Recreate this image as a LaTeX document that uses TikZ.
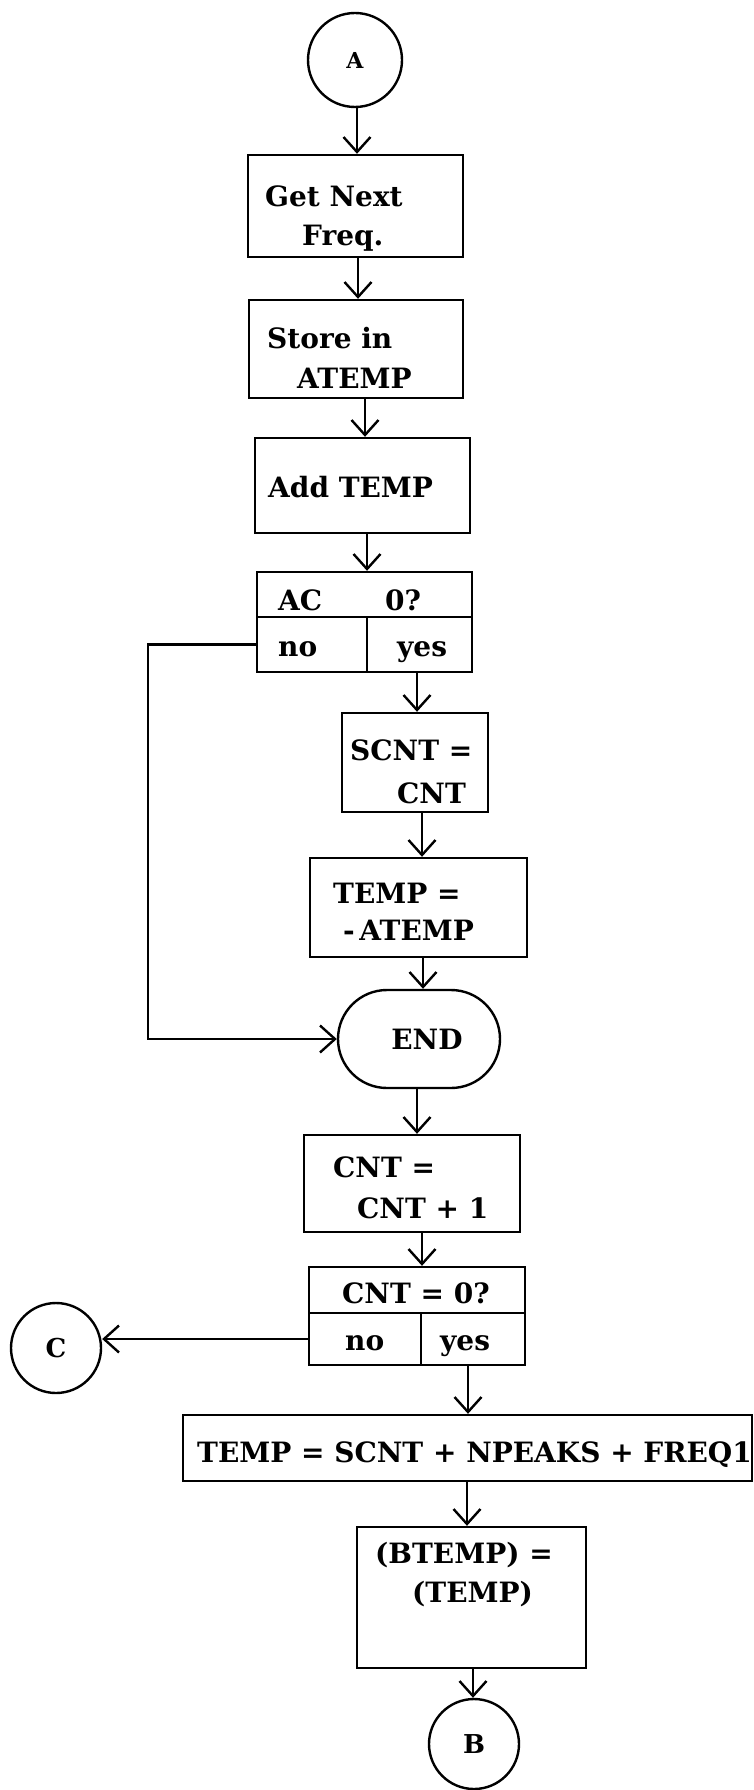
\documentclass[tikz,border=0pt]{standalone}
\usepackage{fontspec}
\setmainfont{DejaVu Serif}
\usetikzlibrary{arrows.meta}
\begin{document}
\begin{tikzpicture}[x=1pt,y=-1pt,
  every node/.style={font=\bfseries\fontsize{28}{32}\selectfont},
  box/.style={draw, line width=2.4pt, rectangle, inner sep=0pt},
  arr/.style={line width=2.4pt, -{Straight Barb[length=15pt,width=27pt,line width=2.4pt]}},
  txt/.style={anchor=base west, inner sep=0pt},
  conn/.style={draw, circle, line width=2.4pt, inner sep=0pt, font=\bfseries\fontsize{26}{28}\selectfont}
]
\useasboundingbox (0,0) rectangle (754,1790);
\fill[white] (0,0) rectangle (754,1790);

% connectors (circles)
\node[conn, minimum size=94pt, font=\bfseries\fontsize{22}{24}\selectfont] (A) at (355,60) {A};
\node[conn, minimum size=90pt] (C) at (56,1348) {C};
\node[conn, minimum size=90pt] (B) at (474,1744) {B};

% boxes
\node[box, minimum width=215pt, minimum height=102pt] (b1) at (355.5,206) {};
\node[box, minimum width=214pt, minimum height=98pt] (b2) at (356,349) {};
\node[box, minimum width=215pt, minimum height=95pt] (b3) at (362.5,485.5) {};
\node[box, minimum width=215pt, minimum height=45pt] (dec1t) at (364.5,594.5) {};
\node[box, minimum width=110pt, minimum height=55pt] (dec1no) at (312,644.5) {};
\node[box, minimum width=105pt, minimum height=55pt] (dec1yes) at (419.5,644.5) {};
\node[box, minimum width=146pt, minimum height=99pt] (scnt) at (415,762.5) {};
\node[box, minimum width=217pt, minimum height=99pt] (tmp) at (418.5,907.5) {};
\node[box, rounded corners=49pt, minimum width=162pt, minimum height=98pt] (end) at (419,1039) {\hspace*{16pt}END};
\node[box, minimum width=216pt, minimum height=97pt] (cnt1) at (412,1183.5) {};
\node[box, minimum width=216pt, minimum height=46pt] (dec2t) at (417,1290) {};
\node[box, minimum width=112pt, minimum height=52pt] (dec2no) at (365,1339) {};
\node[box, minimum width=104pt, minimum height=52pt] (dec2yes) at (473,1339) {};
\node[box, minimum width=569pt, minimum height=66pt] (long) at (467.5,1448) {};
\node[box, minimum width=229pt, minimum height=141pt] (bt) at (471.5,1597.5) {};

% texts
\node[txt] (t1a) at (265,207) {Get Next};
\node[txt] (t1b) at (302,245) {Freq.};
\node[txt] (t2a) at (267,348) {Store in};
\node[txt] (t2b) at (297,388) {ATEMP};
\node[txt] (t3) at (268,497) {Add TEMP};
\node[txt] (t4a) at (278,610) {AC};
\node[txt] (t4b) at (385,610) {0?};
\node[txt] (t4no) at (278,656) {no};
\node[txt] (t4yes) at (397,656) {yes};
\node[txt] (t5a) at (350,760) {SCNT =};
\node[txt] (t5b) at (397,803) {CNT};
\node[txt] (t6a) at (333,903) {TEMP =};
\node[txt] (t6b) at (343,940) {-\,ATEMP};
\node[txt] (t7a) at (333,1177) {CNT =};
\node[txt] (t7b) at (357,1218) {CNT + 1};
\node[txt] (t8) at (342,1303) {CNT = 0?};
\node[txt] (t8no) at (345,1350) {no};
\node[txt] (t8yes) at (440,1350) {yes};
\node[txt] (t9) at (197,1462) {TEMP = SCNT + NPEAKS + FREQ1};
\node[txt] (t10a) at (375,1563) {(BTEMP) =};
\node[txt] (t10b) at (412,1602) {(TEMP)};

% arrows
\draw[arr] (A.south -| 357,0) -- (b1.north -| 357,0);
\draw[arr] (b1.south -| 358,0) -- (b2.north -| 358,0);
\draw[arr] (b2.south -| 365,0) -- (b3.north -| 365,0);
\draw[arr] (b3.south -| 367,0) -- (dec1t.north -| 367,0);
\draw[arr] (dec1yes.south -| 417,0) -- (scnt.north -| 417,0);
\draw[arr] (scnt.south -| 422,0) -- (tmp.north -| 422,0);
\draw[arr] (tmp.south -| 423,0) -- (end.north -| 423,0);
\draw[arr] (end.south -| 417,0) -- (cnt1.north -| 417,0);
\draw[arr] (cnt1.south -| 422,0) -- (dec2t.north -| 422,0);
\draw[arr] (dec2yes.south -| 468,0) -- (long.north -| 468,0);
\draw[arr] (long.south -| 467,0) -- (bt.north -| 467,0);
\draw[arr] (bt.south -| 473,0) -- (B.north -| 473,0);

\coordinate (nturn) at (148,1039);
\draw[arr] (dec1no.west) -| (nturn) -- (end.west);
\draw[arr] (dec2no.west) -- (dec2no.west -| C.east);
\end{tikzpicture}
\end{document}
